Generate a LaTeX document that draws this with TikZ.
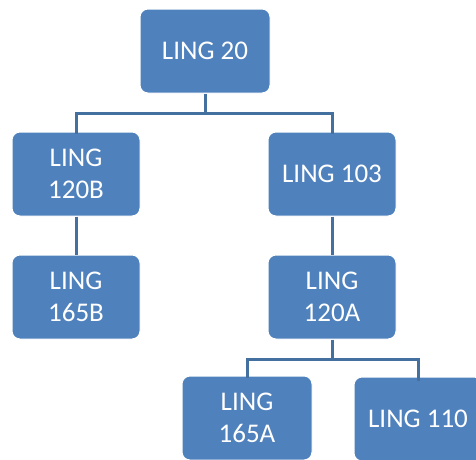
\documentclass[tikz,border=0pt]{standalone}
\usepackage{fontspec}
\setmainfont{Carlito}
\definecolor{boxblue}{HTML}{4F81BD}
\definecolor{lineblue}{HTML}{44709F}
\begin{document}
\begin{tikzpicture}[x=1pt,y=-1pt,
  box/.style={draw=white,line width=1pt,fill=boxblue,rounded corners=8pt,
    minimum width=128pt,minimum height=84pt,inner sep=0pt,text=white,
    align=center,font=\fontsize{27}{32}\selectfont},
  link/.style={draw=lineblue,line width=3pt}]
\useasboundingbox (0,0) rectangle (476,459);
\node[box,minimum width=130pt] (n20) at (205,51) {LING 20};
\node[box] (n120B) at (76,174) {LING\\120B};
\node[box] (n165B) at (76,297) {LING\\165B};
\node[box] (n103) at (332,174) {LING 103};
\node[box] (n120A) at (332,297) {LING\\120A};
\node[box,minimum width=130pt] (n165A) at (247,418) {LING\\165A};
\node[box] (n110) at (418,419) {LING 110};
\coordinate (j1) at (205,113);
\coordinate (j2) at (332,359);
\draw[link] (n20) -- (j1);
\draw[link] (j1) -| ([yshift=-2pt]n120B.north);
\draw[link] (j1) -| ([yshift=-2pt]n103.north);
\draw[link] (n120B) -- (n165B);
\draw[link] (n103) -- (n120A);
\draw[link] (n120A) -- (j2);
\draw[link] (j2) -| ([yshift=-2pt]n165A.north);
\draw[link] (j2) -| ([yshift=-4pt]n110.north);
\end{tikzpicture}
\end{document}
